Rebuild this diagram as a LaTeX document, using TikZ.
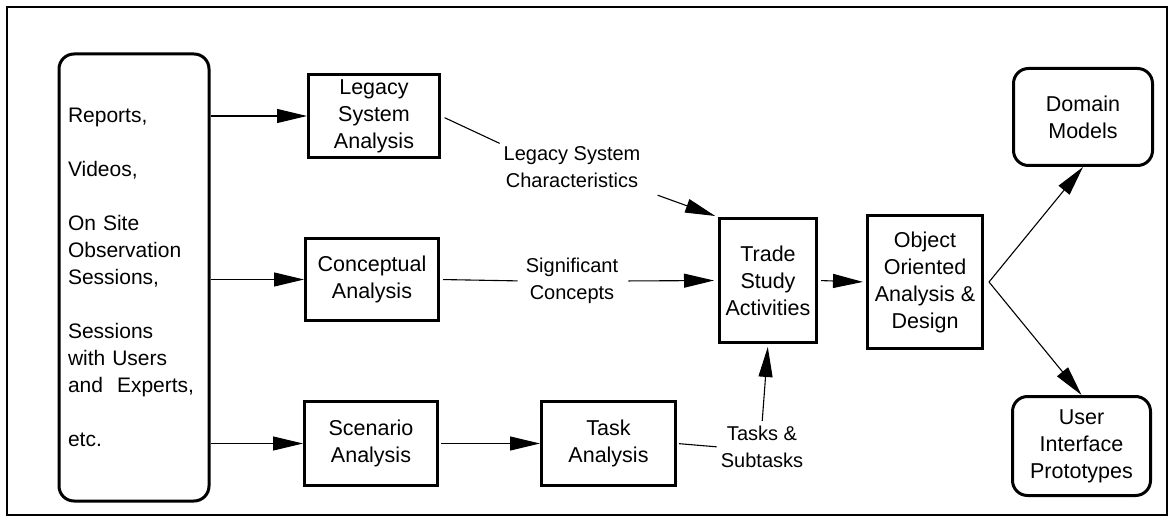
\documentclass[tikz,border=0pt]{standalone}
\usepackage{fontspec}
\setmainfont{Liberation Sans}
\usetikzlibrary{arrows.meta}
\begin{document}
\begin{tikzpicture}[x=1pt,y=-1pt,
  box/.style={draw, line width=3pt, align=center, inner sep=0pt, font=\fontsize{21.5}{27}\selectfont},
  rbox/.style={box, rounded corners=15pt},
  lbl/.style={align=center, inner sep=2pt, font=\fontsize{20}{27}\selectfont},
  con/.style={line width=1.1pt},
  arr/.style={con, -{Triangle[length=30pt,width=14pt]}}]
\useasboundingbox (0,0) rectangle (1175,521);
\draw[line width=1.5pt] (7,7) rectangle (1167,515);

% nodes
\node[rbox, minimum width=150pt, minimum height=447pt, align=left, text width=132pt, font=\fontsize{21}{27}\selectfont] (src) at (134,277.5)
  {Reports,\\[27pt]Videos,\\[27pt]On Site\\Observation\\Sessions,\\[27pt]Sessions\\with Users\\\mbox{and~ Experts,}\\[27pt]etc.};
\node[box, minimum width=131pt, minimum height=83pt] (lg) at (374,116) {Legacy\\System\\Analysis};
\node[box, minimum width=133pt, minimum height=82pt] (ca) at (372,279.5) {Conceptual\\Analysis};
\node[box, minimum width=133pt, minimum height=84pt] (sa) at (371,443.5) {Scenario\\Analysis};
\node[box, minimum width=134pt, minimum height=84pt] (ta) at (608.5,443.5) {Task\\Analysis};
\node[box, minimum width=97pt, minimum height=124pt] (tr) at (768,280.5) {Trade\\Study\\Activities};
\node[box, minimum width=115pt, minimum height=133pt] (oo) at (925,282) {Object\\Oriented\\Analysis \&\\Design};
\node[rbox, minimum width=139pt, minimum height=97pt] (dm) at (1083,117) {Domain\\Models};
\node[rbox, minimum width=138pt, minimum height=99pt] (ui) at (1081.5,446) {User\\Interface\\Prototypes};

\node[lbl] (lsc) at (572,167) {Legacy System\\Characteristics};
\node[lbl] (sc) at (572,281) {Significant\\Concepts};
\node[lbl] (ts) at (762,447) {Tasks \&\\Subtasks};

\coordinate (fk) at ([xshift=5pt]oo.east);

% connectors
\draw[arr] (src.east |- lg.west) -- (lg.west);
\draw[arr] (src.east |- ca.west) -- (ca.west);
\draw[arr] (src.east |- sa.west) -- (sa.west);
\draw[arr, shorten <=2pt] (sa.east) -- (ta.west);

\draw[con, shorten <=4pt, shorten >=2pt] (lg.east) -- (lsc.north west);
\draw[arr, shorten <=16pt, shorten >=3pt] (lsc.south east) -- (tr.north west);

\draw[con, shorten <=3pt, shorten >=6pt] (ca.east) -- (sc.west);
\draw[arr, shorten <=8pt, shorten >=4pt] (sc.east) -- (tr.west);

\draw[con, shorten <=2pt, shorten >=2pt] (ta.east) -- (ts.west);
\draw[arr, shorten <=3pt, shorten >=3pt] (ts.north) -- (tr.south);

\draw[arr, shorten <=3pt, shorten >=3pt] (tr.east) -- (oo.west);
\draw[arr] (fk) -- (dm.south);
\draw[arr] (fk) -- (ui.north);
\end{tikzpicture}
\end{document}
